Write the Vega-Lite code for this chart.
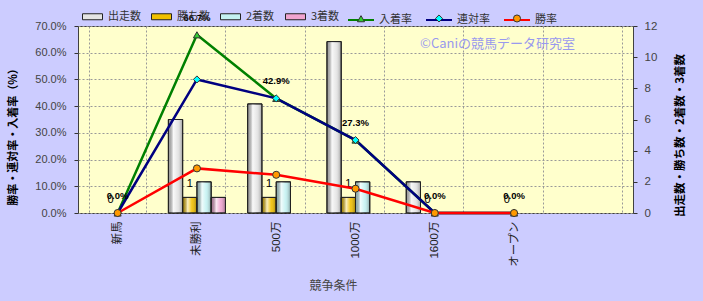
{
  "$schema": "https://vega.github.io/schema/vega-lite/v6.json",
  "width": 555,
  "height": 187,
  "autosize": "none",
  "padding": {"left": 78, "top": 26, "right": 70, "bottom": 88},
  "background": "#CCCCFF",
  "title": {
    "text": "©Caniの競馬データ研究室",
    "anchor": "end",
    "frame": "group",
    "orient": "top",
    "offset": 0,
    "dx": -58,
    "dy": 58,
    "baseline": "bottom",
    "fontSize": 13,
    "fontWeight": "normal",
    "color": "#9999EE",
    "font": "Noto Sans CJK JP"
  },
  "config": {
    "font": "Liberation Sans, Noto Sans CJK JP",
    "view": {"fill": "#FFFFCC", "stroke": "#404040", "strokeWidth": 1},
    "axis": {"labelFont": "Liberation Sans, Noto Sans CJK JP", "titleFont": "Noto Sans CJK JP, Liberation Sans"},
    "text": {"font": "Liberation Sans, Noto Sans CJK JP"}
  },
  "datasets": {
    "counts": [
      {"class": "新馬", "item": "出走数", "n": 0},
      {"class": "新馬", "item": "勝ち数", "n": 0},
      {"class": "新馬", "item": "2着数", "n": 0},
      {"class": "新馬", "item": "3着数", "n": 0},
      {"class": "未勝利", "item": "出走数", "n": 6},
      {"class": "未勝利", "item": "勝ち数", "n": 1},
      {"class": "未勝利", "item": "2着数", "n": 2},
      {"class": "未勝利", "item": "3着数", "n": 1},
      {"class": "500万", "item": "出走数", "n": 7},
      {"class": "500万", "item": "勝ち数", "n": 1},
      {"class": "500万", "item": "2着数", "n": 2},
      {"class": "500万", "item": "3着数", "n": 0},
      {"class": "1000万", "item": "出走数", "n": 11},
      {"class": "1000万", "item": "勝ち数", "n": 1},
      {"class": "1000万", "item": "2着数", "n": 2},
      {"class": "1000万", "item": "3着数", "n": 0},
      {"class": "1600万", "item": "出走数", "n": 2},
      {"class": "1600万", "item": "勝ち数", "n": 0},
      {"class": "1600万", "item": "2着数", "n": 0},
      {"class": "1600万", "item": "3着数", "n": 0},
      {"class": "オープン", "item": "出走数", "n": 0},
      {"class": "オープン", "item": "勝ち数", "n": 0},
      {"class": "オープン", "item": "2着数", "n": 0},
      {"class": "オープン", "item": "3着数", "n": 0}
    ],
    "rates": [
      {"class": "新馬", "series": "入着率", "rate": 0},
      {"class": "未勝利", "series": "入着率", "rate": 0.667},
      {"class": "500万", "series": "入着率", "rate": 0.429},
      {"class": "1000万", "series": "入着率", "rate": 0.273},
      {"class": "1600万", "series": "入着率", "rate": 0},
      {"class": "オープン", "series": "入着率", "rate": 0},
      {"class": "新馬", "series": "連対率", "rate": 0},
      {"class": "未勝利", "series": "連対率", "rate": 0.5},
      {"class": "500万", "series": "連対率", "rate": 0.429},
      {"class": "1000万", "series": "連対率", "rate": 0.273},
      {"class": "1600万", "series": "連対率", "rate": 0},
      {"class": "オープン", "series": "連対率", "rate": 0},
      {"class": "新馬", "series": "勝率", "rate": 0},
      {"class": "未勝利", "series": "勝率", "rate": 0.167},
      {"class": "500万", "series": "勝率", "rate": 0.143},
      {"class": "1000万", "series": "勝率", "rate": 0.091},
      {"class": "1600万", "series": "勝率", "rate": 0},
      {"class": "オープン", "series": "勝率", "rate": 0}
    ]
  },
  "encoding": {
    "x": {
      "field": "class",
      "type": "nominal",
      "scale": {"domain": ["新馬", "未勝利", "500万", "1000万", "1600万", "オープン", " "], "paddingInner": 0.28, "paddingOuter": 0.14},
      "axis": {
        "title": "競争条件",
        "labelAngle": -90,
        "labelFontSize": 11.5,
        "labelColor": "#222",
        "labelPadding": 8,
        "ticks": false,
        "domain": false,
        "grid": true,
        "gridColor": "#999999",
        "gridDash": [2, 2],
        "tickBand": "extent",
        "titleX": 255,
        "titleY": 72,
        "titleFontSize": 12,
        "titleFontWeight": "normal",
        "titleColor": "#444444",
        "titleBaseline": "middle",
        "titleAlign": "center"
      }
    }
  },
  "layer": [
    {
      "data": {"name": "counts"},
      "transform": [{"filter": "datum.n > 0"}],
      "encoding": {
        "xOffset": {"field": "item", "type": "nominal", "scale": {"domain": ["出走数", "勝ち数", "2着数", "3着数"], "paddingInner": 0}},
        "y": {
          "field": "n",
          "type": "quantitative",
          "scale": {"domain": [0, 12], "nice": false},
          "axis": {
            "orient": "right",
            "values": [0, 2, 4, 6, 8, 10, 12],
            "grid": false,
            "domain": false,
            "tickSize": 4,
            "tickColor": "#333333",
            "labelPadding": 7,
            "labelFontSize": 11.5,
            "labelColor": "#444444",
            "title": "出走数・勝ち数・2着数・3着数",
            "titleFontSize": 11.5,
            "titleFontWeight": "bold",
            "titleColor": "#000000",
            "titleAngle": 270,
            "titleX": 47,
            "titleY": 109,
            "titleBaseline": "middle",
            "titleAlign": "center"
          }
        }
      },
      "layer": [
        {
          "mark": {"type": "bar", "stroke": "#222222", "strokeWidth": 1},
          "encoding": {
            "fill": {
              "field": "item",
              "type": "nominal",
              "scale": {
                "domain": ["出走数", "勝ち数", "2着数", "3着数"],
                "range": ["#e4e4e4", "#f0c000", "#c4f2f2", "#f0a4d0"]
              },
              "legend": {
                "title": null,
                "orient": "none",
                "legendX": 4,
                "legendY": -20,
                "direction": "horizontal",
                "symbolType": "M-1,-0.3H1V0.3H-1Z",
                "symbolSize": 400,
                "symbolStrokeColor": "#222222",
                "symbolStrokeWidth": 1,
                "labelFont": "Noto Sans CJK JP",
                "labelFontSize": 11,
                "labelColor": "#333333",
                "columnPadding": 8,
                "labelOffset": 5
              }
            }
          }
        },
        {
          "mark": {
            "type": "bar",
            "stroke": "#222222",
            "strokeWidth": 1,
            "fill": {"gradient": "linear", "x1": 0, "y1": 0, "x2": 1, "y2": 0, "stops": [{"offset": 0, "color": "rgba(0,0,0,0.28)"}, {"offset": 0.35, "color": "rgba(255,255,255,0.75)"}, {"offset": 0.65, "color": "rgba(255,255,255,0.1)"}, {"offset": 1, "color": "rgba(0,0,0,0.32)"}]}
          },
          "encoding": {}
        }
      ]
    },
    {
      "data": {"name": "counts"},
      "transform": [{"filter": "datum.item === '勝ち数'"}],
      "mark": {"type": "text", "dy": -13, "fontSize": 11, "color": "#000000"},
      "encoding": {
        "xOffset": {"field": "item", "type": "nominal", "scale": {"domain": ["出走数", "勝ち数", "2着数", "3着数"], "paddingInner": 0}},
        "y": {"field": "n", "type": "quantitative", "scale": {"domain": [0, 12], "nice": false}, "axis": null},
        "text": {"field": "n", "type": "quantitative"}
      }
    },
    {
      "data": {"name": "rates"},
      "encoding": {
        "y": {
          "field": "rate",
          "type": "quantitative",
          "scale": {"domain": [0, 0.7], "nice": false},
          "axis": {
            "orient": "left",
            "values": [0, 0.1, 0.2, 0.3, 0.4, 0.5, 0.6, 0.7],
            "format": ".1%",
            "grid": true,
            "gridColor": "#999999",
            "gridDash": [2, 2],
            "domain": false,
            "tickSize": 4,
            "tickColor": "#333333",
            "labelPadding": 8,
            "labelFontSize": 11,
            "labelColor": "#444444",
            "title": "勝率・連対率・入着率（%）",
            "titleFontSize": 11,
            "titleFontWeight": "bold",
            "titleColor": "#000000",
            "titleAngle": 270,
            "titleX": -65,
            "titleY": 108,
            "titleBaseline": "middle",
            "titleAlign": "center"
          }
        }
      },
      "layer": [
        {
          "mark": {"type": "line", "strokeWidth": 2.5},
          "encoding": {
            "order": {"value": null},
            "stroke": {
              "field": "series",
              "type": "nominal",
              "scale": {"domain": ["入着率", "連対率", "勝率"], "range": ["#008000", "#000080", "#FF0000"]},
              "legend": {
                "title": null,
                "orient": "none",
                "legendX": 269,
                "legendY": -20,
                "direction": "horizontal",
                "symbolType": "M-1,0H1",
                "symbolSize": 676,
                "symbolStrokeWidth": 2,
                "labelFont": "Noto Sans CJK JP",
                "labelFontSize": 11,
                "labelColor": "#333333",
                "columnPadding": 10,
                "labelOffset": 4
              }
            }
          }
        },
        {
          "mark": {"type": "point", "filled": true, "size": 50, "stroke": "#333333", "strokeWidth": 1, "opacity": 1},
          "encoding": {
            "shape": {
              "field": "series", "type": "nominal",
              "sort": {"field": "rate", "op": "sum", "order": "descending"},
              "scale": {"range": ["triangle-up", "diamond", "circle"]},
              "legend": {"title": null, "orient": "none", "legendX": 277.5, "legendY": -13.5, "direction": "horizontal", "symbolSize": 50, "symbolStrokeWidth": 1, "labelFont": "Noto Sans CJK JP", "labelFontSize": 11, "labelOpacity": 0, "columnPadding": 10, "labelOffset": 23}
            },
            "color": {
              "field": "series", "type": "nominal",
              "sort": {"field": "rate", "op": "sum", "order": "descending"},
              "scale": {"range": ["#33CC33", "#00FFFF", "#FF9900"]},
              "legend": {"title": null, "orient": "none", "legendX": 277.5, "legendY": -13.5, "direction": "horizontal", "symbolSize": 50, "symbolStrokeWidth": 1, "labelFont": "Noto Sans CJK JP", "labelFontSize": 11, "labelOpacity": 0, "columnPadding": 10, "labelOffset": 23}
            }
          }
        },
        {
          "transform": [{"filter": "datum.series === '入着率'"}],
          "mark": {"type": "text", "dy": -17, "fontSize": 9.5, "fontWeight": "bold", "color": "#000000"},
          "encoding": {"text": {"field": "rate", "type": "quantitative", "format": ".1%"}}
        }
      ]
    }
  ],
  "resolve": {"scale": {"y": "independent"}}
}
